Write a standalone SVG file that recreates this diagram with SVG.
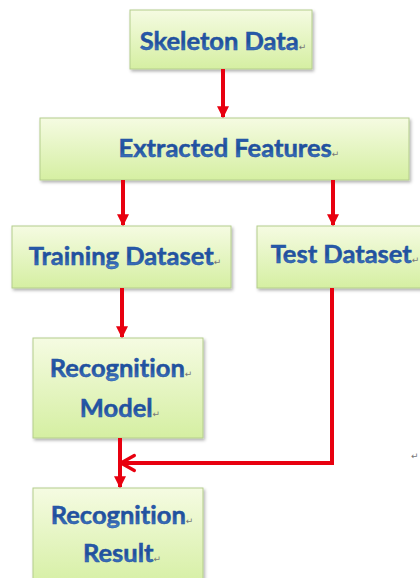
<svg xmlns="http://www.w3.org/2000/svg" width="420" height="578" viewBox="0 0 420 578">
<defs>
<linearGradient id="boxg" x1="0" y1="0" x2="0" y2="1">
<stop offset="0" stop-color="#f5fbe2"/>
<stop offset="1" stop-color="#d5efa2"/>
</linearGradient>
<linearGradient id="txtg" x1="0" y1="0" x2="0" y2="1">
<stop offset="0" stop-color="#2d64b8"/>
<stop offset="0.55" stop-color="#1f4e9c"/>
<stop offset="1" stop-color="#4a86cf"/>
</linearGradient>
<filter id="sh" x="-10%" y="-10%" width="130%" height="140%">
<feDropShadow dx="1.5" dy="2" stdDeviation="1.5" flood-color="#000" flood-opacity="0.3"/>
</filter>
<marker id="ah" viewBox="0 0 10 10" refX="9" refY="5" markerWidth="3" markerHeight="3" orient="auto" markerUnits="strokeWidth">
<path d="M0,0 L10,5 L0,10 z" fill="#e8000f"/>
</marker>
<marker id="ao" viewBox="0 0 12 12" refX="10" refY="6" markerWidth="5" markerHeight="5" orient="auto" markerUnits="strokeWidth">
<path d="M2,1.5 L10,6 L2,10.5" fill="none" stroke="#e8000f" stroke-width="2" stroke-linecap="round" stroke-linejoin="round"/>
</marker>
</defs>
<style>
.box{fill:url(#boxg);stroke:#b4cd8c;stroke-width:1;filter:url(#sh)}
.lbl{font-family:Lato,"Open Sans",sans-serif;font-weight:bold;font-size:25.5px;fill:url(#txtg);text-anchor:middle;stroke:#1f4e9c;stroke-width:0.5;font-variant-ligatures:none}
.pm{font-family:"DejaVu Sans",sans-serif;font-weight:normal;font-size:9px;fill:#777;stroke:none}
.con{fill:none;stroke:#e8000f;stroke-width:4}
</style>
<g id="node-skeleton">
<rect class="box" x="130" y="10" width="182" height="59"/>
<text class="lbl" x="223" y="50">Skeleton Data<tspan class="pm">↵</tspan></text>
</g>
<g id="node-features">
<rect class="box" x="40" y="118" width="369" height="62"/>
<text class="lbl" x="229" y="157">Extracted Features<tspan class="pm">↵</tspan></text>
</g>
<g id="node-training">
<rect class="box" x="12" y="226" width="219" height="62"/>
<text class="lbl" x="125" y="265">Training Dataset<tspan class="pm">↵</tspan></text>
</g>
<g id="node-test">
<rect class="box" x="257" y="226" width="170" height="62"/>
<text class="lbl" x="345" y="263">Test Dataset<tspan class="pm">↵</tspan></text>
</g>
<g id="node-model">
<rect class="box" x="33" y="338" width="170" height="100"/>
<text class="lbl" x="121" y="377">Recognition<tspan class="pm">↵</tspan></text>
<text class="lbl" x="120" y="417">Model<tspan class="pm">↵</tspan></text>
</g>
<g id="node-result">
<rect class="box" x="33" y="488" width="170" height="100"/>
<text class="lbl" x="122" y="524">Recognition<tspan class="pm">↵</tspan></text>
<text class="lbl" x="122" y="562">Result<tspan class="pm">↵</tspan></text>
</g>
<text class="pm" x="411" y="459">↵</text>
<g id="connectors">
<path class="con" d="M223,69 V117" marker-end="url(#ah)"/>
<path class="con" d="M123,180 V225" marker-end="url(#ah)"/>
<path class="con" d="M333,180 V225" marker-end="url(#ah)"/>
<path class="con" d="M122,288 V337" marker-end="url(#ah)"/>
<path class="con" d="M332,288 V463 H121" marker-end="url(#ao)"/>
<path class="con" d="M120,438 V487" marker-end="url(#ah)"/>
</g>
</svg>
